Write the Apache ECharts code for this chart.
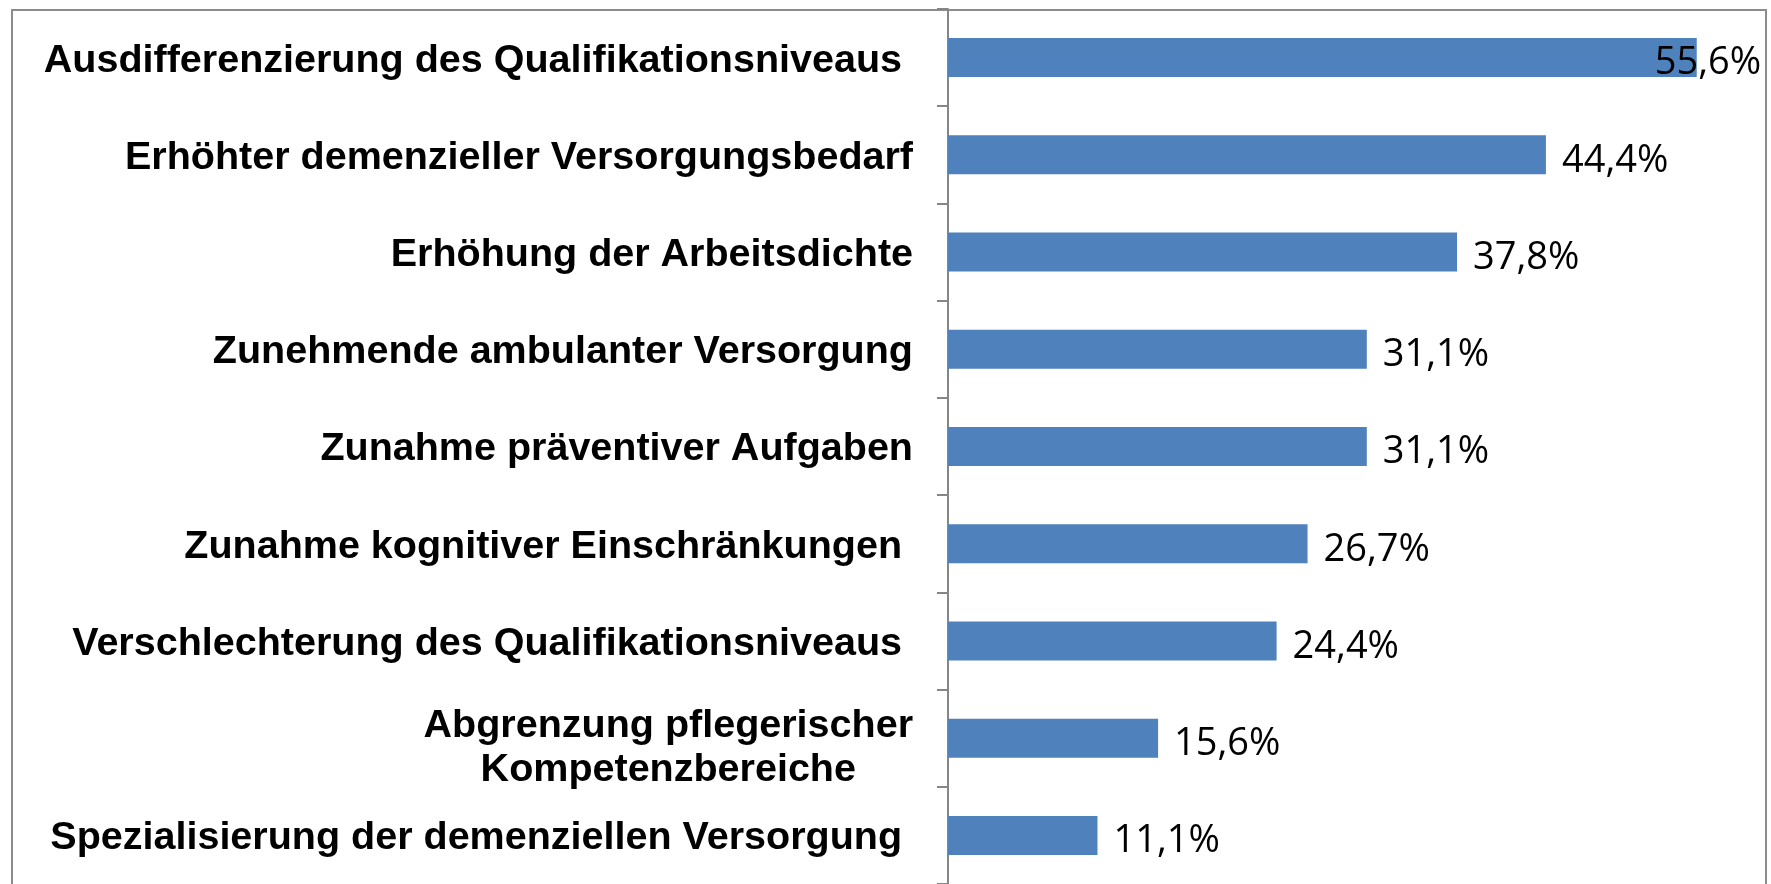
<!DOCTYPE html>
<html>
<head>
<meta charset="utf-8">
<script src="https://cdn.jsdelivr.net/npm/echarts@6/dist/echarts.min.js"></script>
<style>
  html, body { margin: 0; padding: 0; background: #fff; overflow: hidden; }
  #chart { width: 1771px; height: 884px; }
</style>
</head>
<body>
<div id="chart"></div>
<script>
// Kategorien (von oben nach unten) und Anteile in %
const categories = [
  "Ausdifferenzierung des Qualifikationsniveaus ",
  "Erhöhter demenzieller Versorgungsbedarf",
  "Erhöhung der Arbeitsdichte",
  "Zunehmende ambulanter Versorgung",
  "Zunahme präventiver Aufgaben",
  "Zunahme kognitiver Einschränkungen ",
  "Verschlechterung des Qualifikationsniveaus ",
  "Abgrenzung pflegerischer\nKompetenzbereiche",
  "Spezialisierung der demenziellen Versorgung "
];
const values = [55.6, 44.4, 37.8, 31.1, 31.1, 26.7, 24.4, 15.6, 11.1];

const labelFont = {
  fontFamily: "'Liberation Sans', Arial, sans-serif",
  fontWeight: "bold",
  fontSize: 39.5,
  color: "#000"
};

const myChart = echarts.init(document.getElementById("chart"));

const option = {
  backgroundColor: "#fff",
  animation: false,
  // grauer Rahmen um das Diagramm
  graphic: [
    {
      type: "rect",
      shape: { x: 12, y: 10, width: 1754, height: 900 },
      style: { fill: "none", stroke: "#8c8c8c", lineWidth: 2 },
      silent: true
    }
  ],
  grid: {
    left: 948,
    top: 9,
    width: 808,
    height: 881
  },
  xAxis: {
    type: "value",
    min: 0,
    max: 60,
    show: false
  },
  yAxis: {
    type: "category",
    inverse: true,
    data: categories,
    axisLine: { show: true, lineStyle: { color: "#868686", width: 2 } },
    axisTick: { show: true, inside: false, length: 11, lineStyle: { color: "#868686", width: 2 } },
    axisLabel: {
      ...labelFont,
      margin: 35,
      lineHeight: 44,
      padding: [6, 0, 0, 0],
      formatter: function (value) {
        if (value.indexOf("\n") < 0) return value;
        // zweizeilige Beschriftung zentriert, etwas tiefer gesetzt
        return "{s| }\n" + value
          .split("\n")
          .map(line => "{c|" + line + "}")
          .join("\n");
      },
      rich: {
        s: { fontSize: 1, lineHeight: 13 },
        c: { ...labelFont, lineHeight: 44, align: "center" }
      }
    }
  },
  series: [
    {
      type: "bar",
      barWidth: 39,
      itemStyle: { color: "#4f81bd" },
      label: {
        show: true,
        position: "right",
        distance: 16,
        offset: [0, 6],
        fontFamily: "'Open Sans', sans-serif",
        fontSize: 38,
        color: "#000",
        formatter: function (p) {
          return p.value.toFixed(1).replace(".", ",") + "%";
        }
      },
      data: values.map((v, i) => {
        // erstes Label passt nicht mehr rechts daneben, wird nach links geschoben
        if (i === 0) return { value: v, label: { offset: [-58, 6] } };
        return v;
      })
    }
  ]
};

myChart.setOption(option);
</script>
</body>
</html>
